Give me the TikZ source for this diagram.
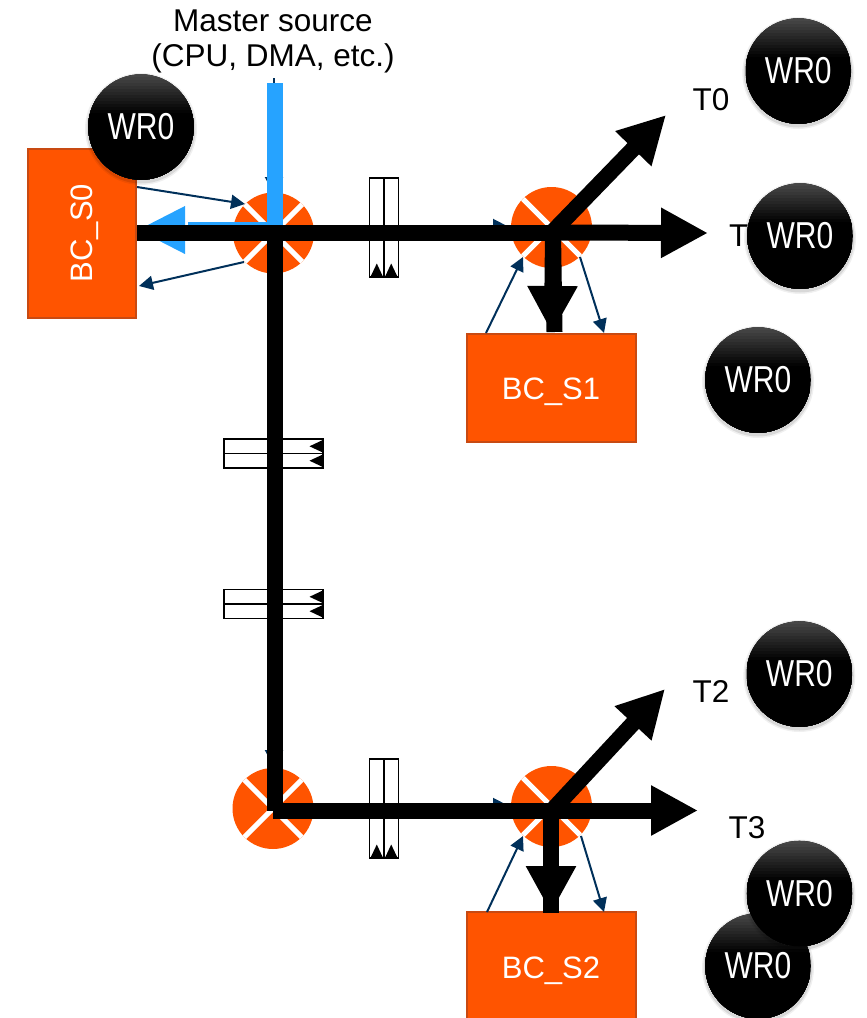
\documentclass[tikz,border=0pt]{standalone}
\usepackage{fontspec}
\usepackage{graphicx}
\setmainfont{Liberation Sans}
\usetikzlibrary{arrows.meta}
\definecolor{bcorange}{HTML}{FF5400}
\definecolor{bcedge}{HTML}{C84A12}
\definecolor{navyline}{HTML}{00305A}
\definecolor{srcblue}{HTML}{26A3FF}
\newcommand{\wrdiscat}[3]{%
  \fill[black,opacity=.06] (#2,#3+2) circle[radius=56];
  \fill[black,opacity=.10] (#2,#3+2) circle[radius=54.5];
  \node[wr] (#1) at (#2,#3) {\scalebox{.8}[1]{WR0}};}
\tikzset{
  mux/.style={circle,fill=bcorange,minimum size=81pt,inner sep=0pt,
    path picture={
      \draw[white,line width=5pt] (path picture bounding box.north west)--(path picture bounding box.south east);
      \draw[white,line width=5pt] (path picture bounding box.north east)--(path picture bounding box.south west);}},
  slave/.style={draw=bcedge,line width=2pt,fill=bcorange,inner sep=0pt},
  slavetext/.style={inner sep=0pt,text=white,font=\fontsize{31}{36}\selectfont},
  wr/.style={circle,minimum size=105.6pt,inner sep=0pt,text=white,fill=black,
    path picture={
      \foreach \i [evaluate=\i as \p using 28-2.2*\i, evaluate=\i as \d using 3*\i] in {0,...,12}
        \fill[white!\p!black] ([yshift=-\d pt]path picture bounding box.north west) rectangle (path picture bounding box.south east);
      \fill[black] ([yshift=-39pt]path picture bounding box.north west) rectangle (path picture bounding box.south east);},
    font=\fontsize{37.5}{40}\selectfont},
  lbl/.style={inner sep=0pt,font=\fontsize{31.5}{36}\selectfont,text=black},
  thin link/.style={draw=navyline,line width=2pt,-{Triangle[length=14pt,width=14pt,fill=navyline]}},
  hidden link/.style={draw=navyline,line width=2pt,-{Triangle[length=18pt,width=18pt,fill=navyline]}},
  bus/.style={draw=black,line width=16pt},
  bus head/.style={draw=black,line width=16pt,-{Triangle[length=47pt,width=47pt,fill=black]}},
  pics/bufup/.style={code={
    \draw[black,line width=1.8pt,fill=white] (-14.5,-49.5) rectangle (14.5,49.5);
    \draw[black,line width=1.8pt] (0,-49.5)--(0,49.5);
    \fill[black] (-13.6,49.5)--(-7.2,36)--(-0.9,49.5)--cycle;
    \fill[black] (0.9,49.5)--(7.2,36)--(13.6,49.5)--cycle;}},
  pics/bufleft/.style={code={
    \draw[black,line width=1.8pt,fill=white] (-49.5,-14.5) rectangle (49.5,14.5);
    \draw[black,line width=1.8pt] (-49.5,0)--(49.5,0);
    \fill[black] (49.5,-13.6)--(36,-7.2)--(49.5,-0.9)--cycle;
    \fill[black] (49.5,0.9)--(36,7.2)--(49.5,13.6)--cycle;}},
}
\begin{document}
\begin{tikzpicture}[x=1pt,y=-1pt]
\useasboundingbox (0,0) rectangle (867,1018);
% text behind
\node[lbl,align=center] (master) at (273,41) {Master source\\[-1pt](CPU, DMA, etc.)};
\node[lbl] (t0) at (711,100) {T0};
\node[lbl,anchor=west] (t1) at (729,236) {T1};
\node[lbl] (t2) at (711,691) {T2};
\node[lbl] (t3) at (747,828) {T3};
% routers
\node[mux] (m0) at (273.5,233) {};
\node[mux] (m1) at (551.5,227.5) {};
\node[mux] (m2) at (273,808.5) {};
\node[mux] (m3) at (551.5,806.5) {};
% slaves
\node[slave,minimum width=108pt,minimum height=169pt] (s0) at (82,233) {};
\node[slave,minimum width=169pt,minimum height=108pt] (s1) at (551.5,388) {};
\node[slave,minimum width=169pt,minimum height=110pt] (s2) at (551.5,967) {};
\node[slavetext,rotate=90] (s0t) at (85,233) {BC\_S0};
\node[slavetext] (s1t) at (551,392) {BC\_S1};
\node[slavetext] (s2t) at (551,971) {BC\_S2};
% buffers
\pic (b0) at (384,227.5) {bufup};
\pic (b1) at (384,808.5) {bufup};
\pic (b2) at (273.5,453.5) {bufleft};
\pic (b3) at (273.5,604) {bufleft};
% coordinates
\coordinate (a0s) at (137,187); \coordinate (a0e) at (245,204);
\coordinate (a1s) at (244,262); \coordinate (a1e) at (139,286);
\coordinate (a2s) at (486,333); \coordinate (a2e) at (523,257);
\coordinate (a3s) at (580,257); \coordinate (a3e) at (604,333);
\coordinate (a4s) at (487,912); \coordinate (a4e) at (523,836);
\coordinate (a5s) at (581,836); \coordinate (a5e) at (604,912);
\coordinate (h0s) at (274,78);  \coordinate (h0e) at (274,195);
\coordinate (h1s) at (400,228); \coordinate (h1e) at (511,228);
\coordinate (h2s) at (274,700); \coordinate (h2e) at (274,768);
\coordinate (h3s) at (400,807); \coordinate (h3e) at (511,807);
\coordinate (srctop) at (275,83); \coordinate (srcin) at (275,226);
\coordinate (bl1) at (270,223.5); \coordinate (bl2) at (190,223.5); \coordinate (bl3) at (190,230); \coordinate (bl4) at (138,230);
\coordinate (busL) at (137,232.5); \coordinate (busV) at (275,225); \coordinate (busC) at (275,811);
\coordinate (j0) at (552,232.5);
\coordinate (busH) at (273,810.5); \coordinate (j1) at (552,810.5);
\coordinate (t0tip) at (666,115); \coordinate (t1tip) at (708,233);
\coordinate (d0top) at (553,232); \coordinate (d0end) at (554.5,332); \coordinate (d0tip) at (552,333);
\coordinate (d1top) at (551,805); \coordinate (d1end) at (551,913); \coordinate (d1tip) at (551,913);
\coordinate (t2tip) at (665,689); \coordinate (t3tip) at (698,810.5);
% thin links
\draw[thin link] (a0s)--(a0e);
\draw[thin link] (a1s)--(a1e);
\draw[thin link] (a2s)--(a2e);
\draw[thin link] (a3s)--(a3e);
\draw[thin link] (a4s)--(a4e);
\draw[thin link] (a5s)--(a5e);
\draw[hidden link] (h0s)--(h0e);
\draw[hidden link] (h1s)--(h1e);
\draw[hidden link] (h2s)--(h2e);
\draw[hidden link] (h3s)--(h3e);
% blue source
\draw[srcblue,line width=16pt] (srctop)--(srcin);
\draw[srcblue,line width=4pt,-{Triangle[length=47pt,width=47pt,fill=srcblue]}] (bl1)--(bl2)--(bl3)--(bl4);
% black buses
\draw[bus] (busL)--(j0);
\draw[bus] (busV)--(busC);
\draw[bus] (busH)--(j1);
\draw[bus head] (j0)--(t0tip);
\draw[bus head] (j0)--(t1tip);
\draw[bus head] (j1)--(t2tip);
\draw[bus head] (j1)--(t3tip);
\draw[bus head] (d0top)--(d0tip);
\draw[bus] (d0top)--(d0end);
\draw[bus head] (d1top)--(d1tip);
\draw[bus] (d1top)--(d1end);
% WR0 discs
\wrdiscat{w0}{141}{127}
\wrdiscat{w1}{798.3}{71}
\wrdiscat{w2}{800}{236}
\wrdiscat{w3}{758}{380}
\wrdiscat{w4}{799.3}{674}
\wrdiscat{w6}{758}{966}
\wrdiscat{w5}{799.5}{893.5}
\end{tikzpicture}
\end{document}
